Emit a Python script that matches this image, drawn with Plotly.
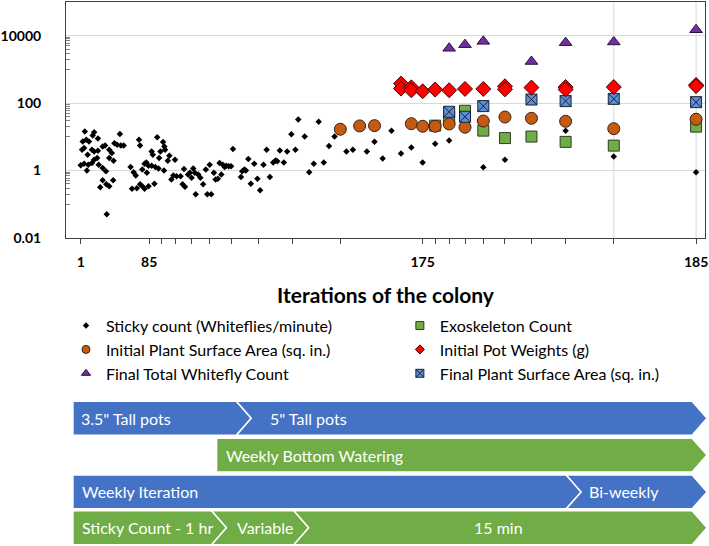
import math
import plotly.graph_objects as go

# ---------------- data (x = position on the reversed log "iteration" axis) ----------------
sticky_x = [172, 159, 161, 154, 128, 175, 170, 166, 176, 173, 168, 162, 159, 154, 148, 145, 140, 137,
            134, 131, 127, 124, 140, 135, 178, 173, 167, 162, 159, 155, 153, 148, 144, 169, 148, 151,
            143.5, 140, 135.5, 143,
            109, 108, 93.5, 89, 88, 98, 97, 91, 87.5, 84.4, 85.5, 80.5, 92, 117, 114, 112, 106, 104,
            102.5, 100.6, 98, 95, 92.5, 88.3, 115.6, 111, 108, 106, 104, 100.6, 95.7, 102, 83, 81.6,
            79.4, 76.8, 75.5, 74.6,
            71, 69, 68.1, 70, 74, 72.1, 66.2, 65, 63.5, 62.1, 60.1, 58, 57.2, 56.1, 67.6, 61.3, 59.3,
            55.3, 53.8, 53, 52.3, 51.2, 50.2, 54.5, 49.4, 45.7, 44.9, 44.3, 46.2, 43.4, 41.3, 42.5,
            40.2, 39.3, 38.2, 37.2, 36.2, 35.2, 34.5, 34, 33.3, 32.2, 31.3, 30.2, 29.2, 28.5,
            27, 26, 25, 24, 23, 22, 21, 19, 18, 16, 15, 14, 13, 12, 11, 10, 9, 8, 6, 5, 3, 2, 1]
sticky_y = [14.3, 13.7, 11, 8.9, 12.2, 7.3, 8.2, 7.3, 4.15, 4.65, 2.96, 4.15, 3.7, 3.9, 5.2, 5.5, 4.15, 3.3,
            6.5, 5.8, 5.5, 5.5, 2.36, 1.97, 1.43, 1.6, 1.5, 1.68, 2.1, 2.36, 1.5, 1.2, 0.95, 1.0, 0.52, 0.32,
            0.39, 0.345, 0.52, 0.051,
            8.2, 5.5, 9.8, 7.0, 5.2, 3.7, 2.96, 3.7, 4.15, 2.76, 1.97, 2.1, 2.36, 1.28, 0.89, 0.71, 1.07, 1.6,
            1.75, 1.4, 1.4, 1.28, 1.15, 1.0, 0.29, 0.30, 0.39, 0.345, 0.29, 0.345, 0.41, 0.86, 0.54, 0.71,
            0.68, 0.68, 0.39, 1.12,
            0.86, 1.15, 0.86, 0.61, 0.33, 0.76, 0.76, 0.61, 0.39, 1.07, 1.5, 0.86, 0.54, 0.57, 0.197, 0.197, 0.197,
            1.68, 1.5, 1.28, 1.4, 1.34, 1.34, 0.76, 4.4, 0.95, 1.07, 1.0, 0.65, 2.2, 1.6, 0.41,
            0.57, 0.26, 1.5, 4.15, 0.65, 1.75, 2.0, 1.88, 3.95, 1.75, 3.7, 12, 4.15, 33,
            10.2, 0.89, 1.6, 28, 1.75, 5.4, 10.2, 3.7, 4.15, 3.7, 7.1, 2.3, 15.3, 3.2, 4.8, 1.75, 6.2, 7.8,
            1.25, 2.1, 15.3, 2.63, 0.89]

exo_x = [9, 8, 7, 6, 5, 4, 3, 2, 1]
exo_y = [21.5, 39.5, 59.4, 15.3, 9.2, 10.2, 7.1, 5.5, 20.1]

isa_x = [20, 17, 15, 11, 10, 9, 8, 7, 6, 5, 4, 3, 2, 1]
isa_y = [16.8, 21.1, 21.5, 24.6, 20.6, 20.6, 24.1, 19.3, 29.5, 38.7, 35.5, 29, 17.5, 33.2]

pot_x = [12, 12, 11, 11, 10, 9, 8, 7, 6, 5, 5, 4, 3, 3, 2, 1, 1]
pot_y = [380, 270, 295, 240, 225, 253, 241, 264, 264, 316, 257, 290, 300, 255, 300, 346, 320]

fwc_x = [8, 7, 6, 4, 3, 2, 1]
fwc_y = [4230, 5430, 6800, 1720, 6220, 6530, 15000]

fsa_x = [8, 7, 6, 4, 3, 2, 1]
fsa_y = [55.5, 39.5, 81.6, 128, 115, 134, 107]

x_tick_pos = [178, 100, 10, 1]
x_tick_text = ["1", "85", "175", "185"]
x_grid_pos = [100, 10, 1]
x_minor_pos = [2, 3, 4, 5, 6, 7, 8, 9, 20, 30, 40, 50, 60, 70, 80, 90]
y_tick_pos = [0.01, 1, 100, 10000]
y_tick_text = ["0.01", "1", "100", "10000"]
y_minor_pos = [k * 10 ** e for e in (-1, 1, 3) for k in range(1, 10)]

# timeline rows: (label, left, flat right end, notched?, label x, centered?)
timeline = [
    ("#4472C4", [("3.5\" Tall pots", 67, 232, False, 73, False),
                 ("5\" Tall pots", 232, 692, True, 264, False)]),
    ("#70AD47", [("Weekly Bottom Watering", 212, 692, False, 219, False)]),
    ("#4472C4", [("Weekly Iteration", 67, 565, False, 74, False),
                 ("Bi-weekly", 565, 692, True, 586, False)]),
    ("#70AD47", [("Sticky Count - 1 hr", 67, 207, False, 74, False),
                 ("Variable", 207, 290, True, 231, False),
                 ("15 min", 290, 692, True, 497, True)]),
]
row_bounds = [(402, 436), (439, 473), (476, 510), (512, 546)]

FONT = "Lato"
W, H = 709, 546
ML, MR, MT, MB = 60, 4, 1, 308


def px_x(p):
    return (p - ML) / (W - ML - MR)


def px_y(p):
    return (H - MB - p) / (H - MT - MB)


fig = go.Figure()

series = [
    dict(name="Sticky count (Whiteflies/minute)", x=sticky_x, y=sticky_y, symbol="diamond", size=5,
         color="black", lc="black", lw=0, ls=5, leg="legend", col=0, row=0),
    dict(name="Exoskeleton Count", x=exo_x, y=exo_y, symbol="square", size=11,
         color="#70AD47", lc="#2E3B26", lw=1, ls=8, leg="legend2", col=1, row=0),
    dict(name="Initial Plant Surface Area (sq. in.)", x=isa_x, y=isa_y, symbol="circle", size=12,
         color="#C55A11", lc="#3B2210", lw=1, ls=8, leg="legend3", col=0, row=1),
    dict(name="Final Plant Surface Area (sq. in.)", x=fsa_x, y=fsa_y, symbol="square-x", size=11,
         color="#5B8FD6", lc="#1B2335", lw=1, ls=8, leg="legend6", col=1, row=2),
    dict(name="Initial Pot Weights (g)", x=pot_x, y=pot_y, symbol="diamond", size=11.5,
         color="#FF0000", lc="#4A0000", lw=1, ls=7, leg="legend4", col=1, row=1),
    dict(name="Final Total Whitefly Count", x=fwc_x, y=fwc_y, symbol="triangle-up", size=11,
         color="#7030A0", lc="#2A1040", lw=1, ls=8, leg="legend5", col=0, row=2),
]

for s in series:
    fig.add_trace(go.Scatter(
        x=s["x"], y=s["y"], mode="markers", name=s["name"], showlegend=False,
        marker=dict(symbol=s["symbol"], size=s["size"], color=s["color"],
                    line=dict(color=s["lc"], width=s["lw"]))))

legend_cols = [60, 397]
legend_rows = [326, 350, 374]
legend_layouts = {}
for s in series:
    fig.add_trace(go.Scatter(
        x=[None], y=[None], mode="markers", name=s["name"], legend=s["leg"], showlegend=True,
        marker=dict(symbol=s["symbol"], size=s["ls"], color=s["color"],
                    line=dict(color=s["lc"], width=s["lw"]))))
    legend_layouts[s["leg"]] = dict(
        x=px_x(legend_cols[s["col"]]), y=px_y(legend_rows[s["row"]]),
        xanchor="left", yanchor="middle", orientation="h", itemwidth=30,
        bgcolor="rgba(0,0,0,0)", font=dict(family=FONT, size=16, color="black"),
        itemclick=False, itemdoubleclick=False)

shapes = []
for xv in x_grid_pos:
    shapes.append(dict(type="line", xref="x", yref="paper", x0=math.log10(xv), x1=math.log10(xv),
                       y0=0, y1=1, line=dict(color="#D9D9D9", width=1), layer="below"))

annotations = []
D = 15
for (color, segs), (yt, yb) in zip(timeline, row_bounds):
    yc = (yt + yb) / 2
    for label, x0, x1, notch, lx, centered in segs:
        pts = [(x0, yt), (x1, yt), (x1 + D, yc), (x1, yb), (x0, yb)]
        if notch:
            pts.append((x0 + D, yc))
        path = "M " + " L ".join(f"{px_x(a):.5f},{px_y(b):.5f}" for a, b in pts) + " Z"
        shapes.append(dict(type="path", xref="paper", yref="paper", path=path,
                           fillcolor=color, line=dict(color="white", width=1.5), layer="above"))
        annotations.append(dict(text=label, xref="paper", yref="paper", x=px_x(lx), y=px_y(yc),
                                xanchor="center" if centered else "left", yanchor="middle",
                                showarrow=False, font=dict(family=FONT, size=16, color="white")))

tickfont = dict(family=FONT, size=14, color="black", weight="bold")
fig.update_layout(
    width=W, height=H, margin=dict(l=ML, r=MR, t=MT, b=MB),
    plot_bgcolor="white", paper_bgcolor="white",
    font=dict(family=FONT, color="black"),
    showlegend=True,
    xaxis=dict(type="log", range=[(696 - 60) / 276, (696 - 705) / 276],
               tickmode="array", tickvals=x_tick_pos, ticktext=x_tick_text,
               ticks="outside", ticklen=5, tickcolor="#404040", showgrid=False, zeroline=False,
               showline=True, linecolor="#404040", linewidth=1, mirror=True,
               tickfont=tickfont, ticklabelstandoff=6,
               title=dict(text="Iterations of the colony",
                          font=dict(family=FONT, size=21, color="black", weight="bold"), standoff=19),
               minor=dict(tickmode="array", tickvals=x_minor_pos, ticks="outside", ticklen=5,
                          tickcolor="#404040", showgrid=False)),
    yaxis=dict(type="log", range=[-2, 5], tickmode="array", tickvals=y_tick_pos, ticktext=y_tick_text,
               ticks="", showgrid=True, gridcolor="#D9D9D9", gridwidth=1, zeroline=False,
               showline=True, linecolor="#404040", linewidth=1, mirror=True,
               tickfont=tickfont, ticklabelstandoff=21,
               minor=dict(tickmode="array", tickvals=y_minor_pos, ticks="inside", ticklen=4,
                          tickcolor="#808080", showgrid=False)),
    shapes=shapes, annotations=annotations,
    **legend_layouts,
)

fig.write_html("out.html", config={"displayModeBar": False},
               post_script="document.body.style.margin='0px';document.body.style.overflow='hidden';")
